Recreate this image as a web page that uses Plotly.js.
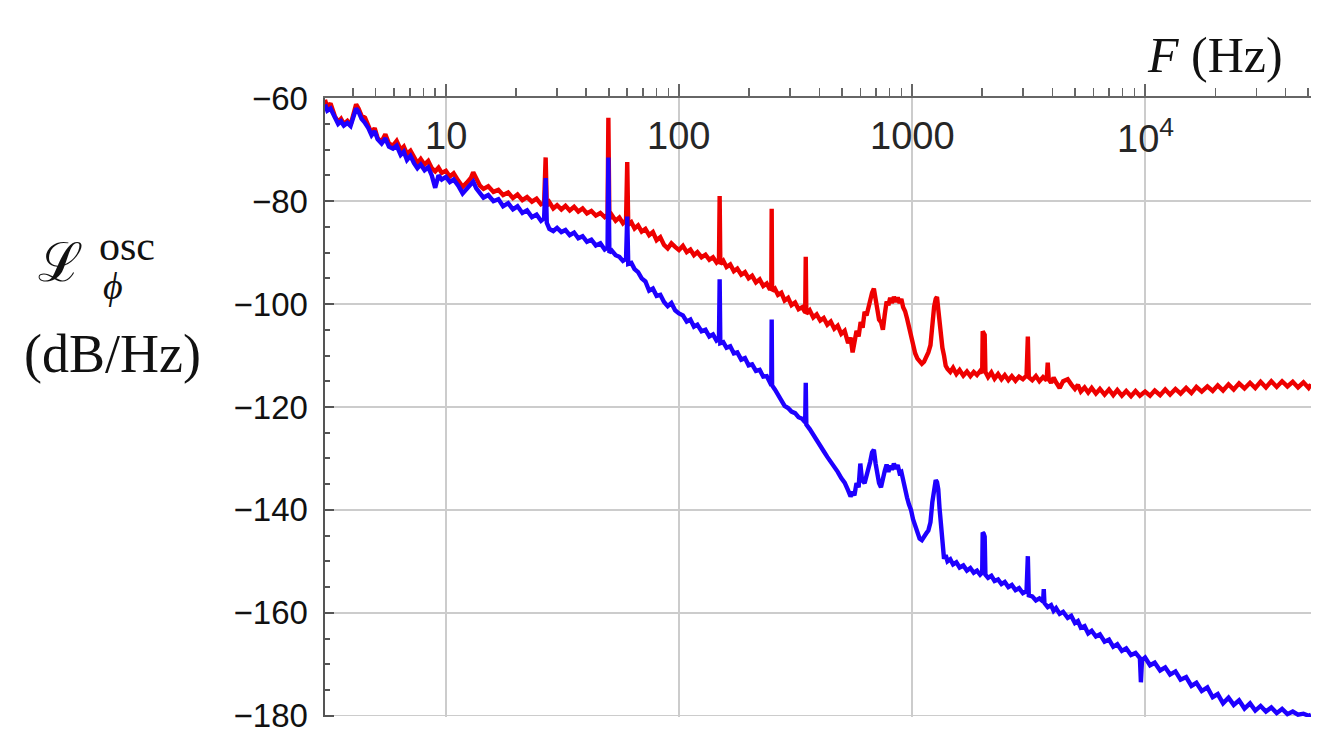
<!DOCTYPE html>
<html>
<head>
<meta charset="utf-8">
<script src="https://cdn.plot.ly/plotly-3.0.1.min.js"></script>
<style>html,body{margin:0;padding:0;background:#fff;}#chart{width:1331px;height:751px;}</style>
</head>
<body>
<div id="chart"></div>
<script>
// Frequency (Hz) and phase-noise (dB/Hz) pairs
const redSeries = [[3.03,-60.3],[3.1,-61.8],[3.2,-61],[3.34,-63.5],[3.45,-64.6],[3.55,-64],[3.65,-65],[3.78,-64.4],[3.9,-65.2],[4.02,-63],[4.12,-61.2],[4.22,-62],[4.35,-63.4],[4.5,-63.8],[4.65,-65.2],[4.8,-66.8],[4.95,-65.8],[5.1,-67.8],[5.3,-68.4],[5.5,-67],[5.7,-68.8],[5.93,-69.2],[6.15,-68.3],[6.4,-70],[6.6,-69.4],[6.81,-70.8],[7.05,-70.2],[7.3,-71.5],[7.55,-72.6],[7.8,-71.8],[8.1,-72.9],[8.4,-72.2],[8.7,-73.6],[9.0,-74.2],[9.3,-73.5],[9.6,-74.5],[10.0,-74.1],[10.4,-75.2],[10.8,-74.6],[11.3,-76],[11.8,-77.2],[12.3,-76.4],[12.8,-75.5],[13.1,-74.4],[13.5,-75.8],[14.0,-77],[14.5,-77.6],[15.2,-77.1],[16.0,-78.2],[16.8,-77.8],[17.6,-78.8],[18.5,-78.3],[19.4,-79.4],[20.3,-78.7],[21.3,-79.8],[22.3,-79.2],[23.4,-80.1],[24.5,-79.5],[25.6,-80.6],[26.4,-80.3],[26.8,-71.5],[27.1,-80.9],[27.8,-80.2],[28.9,-81.4],[30.0,-80.8],[31.3,-81.6],[32.6,-80.9],[34.0,-81.8],[35.5,-81.1],[37.0,-82],[38.6,-81.4],[40.3,-82.4],[42.1,-81.9],[44.0,-82.8],[46.0,-82.3],[48.0,-83.1],[49.4,-82.6],[49.8,-63.8],[50.3,-83.4],[51.5,-82.7],[53.5,-83.8],[55.5,-83.2],[57.5,-84.3],[59.3,-83.7],[60.0,-72.4],[60.6,-84.6],[62.5,-84.1],[64.5,-85.3],[66.8,-84.7],[69.2,-85.9],[71.8,-85.4],[74.5,-86.6],[77.3,-86],[80.2,-87.6],[83.2,-87],[86.3,-88.5],[89.5,-89.2],[92.8,-88.2],[96.3,-88.9],[100,-89.5],[104,-88.7],[108,-89.9],[112,-89.4],[116,-90.5],[120,-89.9],[125,-90.9],[130,-90.4],[135,-91.4],[140,-90.9],[145,-91.9],[148.5,-91.4],[149.5,-79],[150.5,-92.2],[155,-91.6],[160,-92.8],[166,-92.3],[172,-93.6],[178,-93.1],[185,-94.3],[192,-93.8],[199,-95],[206,-94.5],[214,-95.8],[222,-95.2],[230,-96.5],[238,-96],[246,-97.2],[249,-96.6],[250,-81.5],[251,-97.4],[258,-97],[266,-98.2],[275,-97.8],[284,-99.3],[294,-98.8],[304,-100.2],[315,-99.7],[326,-101],[338,-100.6],[348,-101.6],[350,-90.8],[352,-101.9],[364,-101.2],[377,-102.6],[390,-102],[404,-103.2],[418,-102.7],[433,-104],[448,-103.4],[464,-104.8],[480,-104.2],[497,-105.8],[514,-105.2],[532,-107.6],[545,-106.5],[556,-109.4],[566,-107.5],[578,-105.2],[590,-106.3],[602,-103.5],[614,-104.6],[626,-101.5],[638,-102.2],[650,-100.4],[662,-99],[674,-97.8],[686,-97],[698,-99],[710,-101.5],[722,-103],[736,-103.5],[750,-105],[764,-102],[778,-99.5],[792,-100.2],[806,-98.8],[820,-99.8],[836,-98.6],[852,-99.6],[868,-98.7],[884,-99.8],[900,-99],[916,-100.6],[934,-101.4],[952,-102.8],[970,-104.5],[990,-106.2],[1010,-108],[1032,-109.6],[1055,-110.6],[1078,-111.2],[1102,-111.6],[1126,-111.2],[1150,-110.4],[1175,-109.4],[1200,-108],[1222,-104],[1244,-100.5],[1264,-99],[1280,-98.6],[1296,-101],[1312,-104],[1330,-106.5],[1350,-108.5],[1372,-110],[1395,-112],[1420,-112.6],[1460,-113.2],[1500,-112.4],[1550,-113.6],[1600,-112.8],[1660,-113.9],[1720,-113.1],[1780,-114],[1840,-113.2],[1900,-113.8],[1960,-113],[2000,-113.4],[2010,-105.3],[2030,-105.6],[2050,-106],[2065,-113.2],[2120,-114.2],[2190,-113.3],[2260,-114.5],[2340,-113.6],[2420,-114.6],[2500,-113.8],[2590,-114.8],[2680,-114],[2780,-114.9],[2880,-114.1],[2990,-114.6],[3100,-113.9],[3140,-106.3],[3170,-114.2],[3280,-114.8],[3400,-114],[3520,-115],[3650,-114.2],[3780,-114.8],[3822,-111.4],[3860,-114.6],[3950,-115.3],[4050,-114.3],[4150,-115.2],[4300,-116.3],[4450,-115],[4656,-114.6],[4820,-115.6],[5000,-116.5],[5150,-115.7],[5300,-117],[5500,-116.2],[5700,-117.2],[5900,-116.3],[6150,-117.4],[6400,-116.5],[6700,-117.6],[7000,-116.6],[7300,-117.7],[7600,-116.7],[7950,-117.8],[8300,-116.9],[8700,-117.9],[9100,-116.9],[9500,-117.8],[10000,-117],[10500,-117.8],[11000,-116.8],[11600,-117.7],[12200,-116.6],[12800,-117.6],[13500,-116.5],[14200,-117.4],[15000,-116.3],[15800,-117.3],[16600,-116.1],[17500,-117],[18500,-116],[19500,-116.9],[20500,-115.8],[21600,-116.8],[22800,-115.6],[24000,-116.6],[25300,-115.4],[26700,-116.4],[28200,-115.3],[29700,-116.3],[31300,-115.1],[33000,-116.2],[34800,-115],[36700,-116.1],[38700,-115],[40800,-116],[43000,-115.1],[45300,-116.2],[47800,-115.2],[50300,-116.3],[51500,-115.6]];

const blueSeries = [[3.03,-61.2],[3.1,-62.4],[3.2,-62],[3.34,-63.9],[3.45,-65],[3.55,-64.5],[3.65,-65.3],[3.78,-64.8],[3.9,-65.4],[4.02,-63.5],[4.12,-62],[4.22,-62.6],[4.35,-64],[4.5,-64.8],[4.65,-65.8],[4.8,-67.2],[4.95,-66.4],[5.1,-68],[5.3,-68.8],[5.5,-67.8],[5.7,-69.4],[5.93,-69.8],[6.15,-69.2],[6.4,-71],[6.6,-70.4],[6.81,-72],[7.05,-71.2],[7.3,-72.6],[7.55,-73.6],[7.8,-72.9],[8.1,-74],[8.4,-73.4],[8.7,-75],[9.0,-77.4],[9.3,-75],[9.6,-75.8],[10.0,-75.3],[10.4,-76.3],[10.8,-75.8],[11.3,-77],[11.8,-78.5],[12.3,-77.6],[12.8,-76.8],[13.1,-76.2],[13.5,-77.5],[14.0,-78.6],[14.5,-79.3],[15.2,-78.8],[16.0,-80],[16.8,-79.6],[17.6,-81],[18.5,-80.4],[19.4,-81.6],[20.3,-81],[21.3,-82.3],[22.3,-81.8],[23.4,-83.1],[24.5,-82.6],[25.6,-83.8],[26.4,-83.3],[26.8,-75.5],[27.1,-84.2],[27.8,-85.4],[28.9,-85.8],[30.0,-85.2],[31.3,-86],[32.6,-85.6],[34.0,-86.6],[35.5,-86.1],[37.0,-87.2],[38.6,-86.8],[40.3,-87.9],[42.1,-87.5],[44.0,-88.6],[46.0,-88.2],[48.0,-89.4],[49.4,-89],[49.8,-71.5],[50.3,-90],[51.5,-89.6],[53.5,-90.5],[55.5,-90.8],[57.5,-91.6],[59.3,-91.2],[60.0,-83],[60.6,-92.2],[62.5,-92],[64.5,-93.2],[66.8,-93.8],[69.2,-95],[71.8,-95.6],[74.5,-97.4],[77.3,-97],[80.2,-98.4],[83.2,-98.2],[86.3,-99.6],[89.5,-100.4],[92.8,-99.8],[96.3,-101.2],[100,-101.8],[104,-102.2],[108,-103.4],[112,-103],[116,-104.4],[120,-104],[125,-105.3],[130,-105],[135,-106.3],[140,-105.9],[145,-107.1],[148.5,-106.8],[149.5,-95.2],[150.5,-107.6],[155,-107.4],[160,-108.5],[166,-108.2],[172,-109.6],[178,-109.4],[185,-110.8],[192,-110.5],[199,-111.9],[206,-111.7],[214,-113],[222,-112.8],[230,-114.1],[238,-114],[246,-115.3],[249,-115],[250,-103],[251,-115.8],[258,-116.6],[266,-117.5],[275,-118.6],[284,-119.8],[294,-120.2],[304,-120.9],[315,-121.2],[326,-122],[338,-122.3],[348,-123],[350,-115.3],[352,-123.4],[364,-124.3],[377,-125.3],[390,-126.6],[404,-127.5],[418,-128.6],[433,-129.7],[448,-130.6],[464,-131.8],[480,-132.6],[497,-133.8],[514,-134.7],[532,-136.2],[545,-137.4],[556,-136.5],[566,-137.2],[578,-134.8],[590,-135.6],[600,-131],[610,-134.2],[626,-134.8],[638,-133.5],[650,-132.6],[662,-130.6],[674,-128.8],[686,-128.3],[698,-131],[710,-133.4],[722,-134.8],[736,-135.6],[750,-133.6],[764,-132.4],[778,-131.2],[792,-132.6],[806,-131.4],[820,-132.2],[836,-131],[852,-132],[868,-131.3],[884,-132.8],[900,-132.6],[916,-134.5],[934,-135.6],[952,-137.6],[970,-138.9],[990,-140],[1010,-141.8],[1032,-143],[1055,-144.6],[1078,-145.6],[1102,-145.9],[1126,-145.4],[1150,-144.6],[1175,-144],[1200,-142.4],[1222,-138.5],[1244,-135.5],[1264,-134.2],[1280,-134.6],[1296,-136],[1312,-139.6],[1330,-142.5],[1350,-146.5],[1372,-149.5],[1395,-148.8],[1420,-150],[1460,-149.6],[1500,-150.6],[1550,-150.2],[1600,-151.2],[1660,-150.8],[1720,-151.8],[1780,-151.3],[1840,-152.2],[1900,-151.8],[1960,-152.6],[2000,-152.2],[2010,-144.4],[2030,-144.6],[2050,-145.2],[2065,-152.6],[2120,-153.2],[2190,-152.8],[2260,-153.8],[2340,-153.5],[2420,-154.4],[2500,-154],[2590,-155],[2680,-154.6],[2780,-155.6],[2880,-155.2],[2990,-156.2],[3100,-155.8],[3140,-149],[3170,-156.6],[3280,-156.8],[3400,-157.6],[3520,-157.2],[3650,-157.8],[3675,-155.4],[3700,-158.1],[3822,-158.9],[3950,-158.5],[4050,-159.6],[4150,-159.1],[4300,-160.2],[4450,-159.8],[4656,-161],[4820,-160.6],[5000,-162],[5150,-161.6],[5300,-162.9],[5500,-162.6],[5700,-164],[5900,-163.5],[6150,-164.6],[6400,-164.2],[6700,-165.6],[7000,-165.2],[7300,-166.6],[7600,-166.1],[7950,-167.4],[8300,-166.9],[8700,-168.2],[9100,-167.8],[9500,-168.8],[9594,-173.5],[9700,-169.2],[10000,-168.7],[10500,-170.2],[11000,-169.7],[11600,-171.2],[12200,-170.6],[12800,-172],[13500,-171.4],[14200,-173],[15000,-172.5],[15800,-174.2],[16600,-173.6],[17500,-175.2],[18500,-174.5],[19500,-176.4],[20500,-175.8],[21600,-177.6],[22800,-176.5],[24000,-177.9],[25300,-177],[26700,-178.6],[28200,-177.6],[29700,-179],[31300,-178.1],[33000,-179.2],[34800,-178.4],[36700,-179.5],[38700,-178.7],[40800,-179.7],[43000,-179.2],[45300,-179.8],[47800,-179.6],[50300,-180],[51500,-179.8]];

const xTickVals = [10, 100, 1000, 10000];
const xTickText = ['10', '100', '1000', '10<sup>4</sup>'];
const yTickVals = [-180, -160, -140, -120, -100, -80, -60];
const xRange = [3.03, 51500];
const yRange = [-180.25, -59.95];

const traces = [
  {x: redSeries.map(p => p[0]), y: redSeries.map(p => p[1]), type: 'scatter', mode: 'lines',
   line: {color: 'rgb(238,0,0)', width: 4.4}, hoverinfo: 'skip'},
  {x: blueSeries.map(p => p[0]), y: blueSeries.map(p => p[1]), type: 'scatter', mode: 'lines',
   line: {color: 'rgb(30,0,255)', width: 4.4}, hoverinfo: 'skip'}
];

const W = 1331, H = 751, ML = 325, MR = 20, MT = 98, MB = 34;
const PW = W - ML - MR, PH = H - MT - MB;
const px = v => (v - ML) / PW;
const py = v => (H - MB - v) / PH;

const serif = 'Liberation Serif, Times New Roman, serif';
const sans = 'Liberation Sans, Arial, sans-serif';

// x tick labels sit inside the plot just under the top axis line
const xLabelAnnotations = xTickVals.map((v, i) => ({
  text: xTickText[i], xref: 'x', yref: 'paper', x: Math.log10(v), y: py(136),
  xanchor: 'center', yanchor: 'middle', showarrow: false,
  font: {family: sans, size: 38, color: '#262626'}
}));

const layout = {
  width: W, height: H,
  margin: {l: ML, r: MR, t: MT, b: MB, pad: 0},
  paper_bgcolor: '#fff', plot_bgcolor: '#fff',
  showlegend: false,
  font: {family: sans, color: '#111'},
  xaxis: {
    type: 'log', side: 'top',
    range: [Math.log10(xRange[0]), Math.log10(xRange[1])],
    tickmode: 'array', tickvals: xTickVals, ticktext: xTickText,
    showticklabels: false,
    ticks: 'outside', ticklen: 12, tickwidth: 1.5, tickcolor: '#666',
    showline: true, linecolor: '#666', linewidth: 2.5,
    showgrid: true, gridcolor: '#cccccc', gridwidth: 1.5,
    zeroline: false,
    minor: {ticks: 'outside', ticklen: 8, tickwidth: 1.5, tickcolor: '#666', dtick: 'D1', showgrid: false}
  },
  yaxis: {
    range: yRange, tickmode: 'array', tickvals: yTickVals,
    ticks: 'inside', ticklen: 9, tickwidth: 2, tickcolor: '#555',
    ticklabelstandoff: 8,
    tickfont: {size: 33, color: '#111', family: sans},
    showline: true, linecolor: '#555', linewidth: 2.5,
    showgrid: true, gridcolor: '#cccccc', gridwidth: 1.5,
    zeroline: false,
    minor: {ticks: 'inside', ticklen: 5, tickwidth: 2, tickcolor: '#555', tickmode: 'linear', tick0: -180, dtick: 5, showgrid: false}
  },
  annotations: xLabelAnnotations.concat([
    {text: '<i>F</i> (Hz)', xref: 'paper', yref: 'paper', x: px(1215), y: py(55),
     xanchor: 'center', yanchor: 'middle', showarrow: false,
     font: {family: serif, size: 50, color: '#111'}},
    {text: 'ℒ', xref: 'paper', yref: 'paper', x: px(60), y: py(262),
     xanchor: 'center', yanchor: 'middle', showarrow: false,
     font: {family: 'DejaVu Serif, serif', size: 54, color: '#111'}},
    {text: 'osc', xref: 'paper', yref: 'paper', x: px(127), y: py(246),
     xanchor: 'center', yanchor: 'middle', showarrow: false,
     font: {family: serif, size: 42, color: '#111'}},
    {text: '<i>ϕ</i>', xref: 'paper', yref: 'paper', x: px(113), y: py(286),
     xanchor: 'center', yanchor: 'middle', showarrow: false,
     font: {family: serif, size: 38, color: '#111'}},
    {text: '(dB/Hz)', xref: 'paper', yref: 'paper', x: px(112), y: py(354),
     xanchor: 'center', yanchor: 'middle', showarrow: false,
     font: {family: serif, size: 54, color: '#111'}}
  ])
};

Plotly.newPlot('chart', traces, layout, {staticPlot: true, displayModeBar: false});
</script>
</body>
</html>
